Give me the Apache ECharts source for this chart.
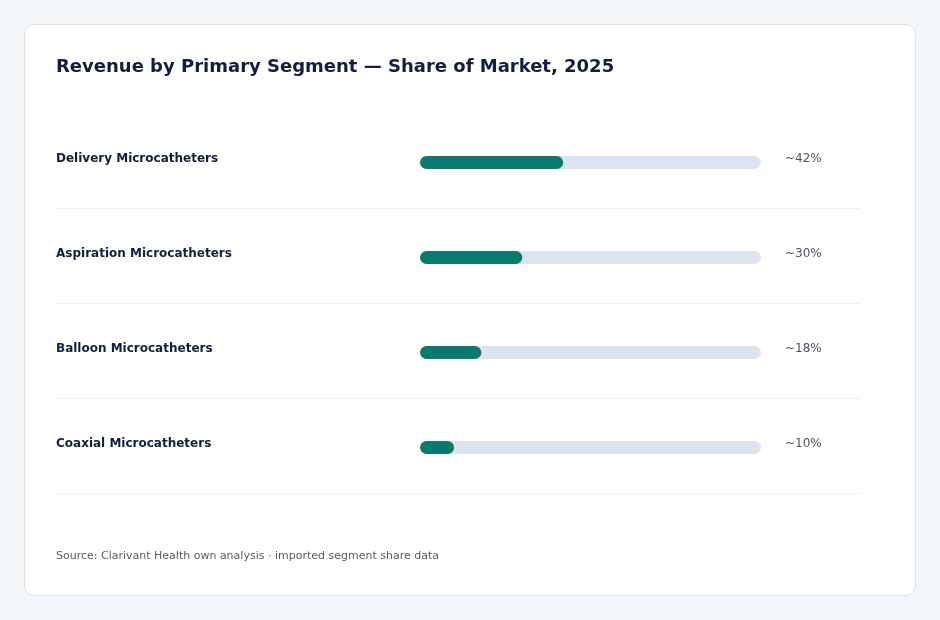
<!DOCTYPE html>
<html>
<head>
<meta charset="utf-8">
<script src="https://cdn.jsdelivr.net/npm/echarts@6/dist/echarts.min.js"></script>
<style>
  html, body { margin: 0; padding: 0; background: #f4f7fa; }
  #card {
    position: absolute; left: 24px; top: 24px; width: 892px; height: 572px;
    box-sizing: border-box; background: #fff; border: 1px solid #dfe4ea; border-radius: 10px;
  }
  #main { position: absolute; left: 0; top: 0; width: 940px; height: 620px; }
</style>
</head>
<body>
<div id="card"></div>
<div id="main"></div>
<script>
var segments = ['Delivery Microcatheters', 'Aspiration Microcatheters', 'Balloon Microcatheters', 'Coaxial Microcatheters'];
var shares = [42, 30, 18, 10];
var valueLabels = ['~42%', '~30%', '~18%', '~10%'];

var myChart = echarts.init(document.getElementById('main'));
var font = 'DejaVu Sans, sans-serif';

myChart.setOption({
    animation: false,
    title: [{
        text: 'Revenue by Primary Segment \u2014 Share of Market, 2025',
        left: 56, top: 58, padding: 0,
        textStyle: { fontFamily: font, fontSize: 18, fontWeight: 'bold', color: '#0f1f3c' }
    }, {
        text: 'Source: Clarivant Health own analysis \u00b7 imported segment share data',
        left: 56, top: 551, padding: 0,
        textStyle: { fontFamily: font, fontSize: 11, fontWeight: 'normal', color: '#555d69' }
    }],
    grid: [
        { left: 420, right: 179, top: 115, height: 380 },
        // row separators
        { left: 56, right: 80, top: 208, height: 285 },
        // labels sit a few px above the bar centre
        { left: 420, right: 179, top: 111, height: 380 }
    ],
    xAxis: [
        { gridIndex: 0, type: 'value', min: 0, max: 100, show: false },
        { gridIndex: 1, type: 'value', min: 0, max: 1, show: false },
        { gridIndex: 2, type: 'value', min: 0, max: 1, show: false }
    ],
    yAxis: [{
        gridIndex: 0, type: 'category', data: segments, inverse: true, show: false
    }, {
        gridIndex: 1, type: 'value', min: 1, max: segments.length, interval: 1, inverse: true,
        axisLine: { show: false }, axisTick: { show: false }, axisLabel: { show: false },
        splitLine: { show: true, lineStyle: { color: '#eef1f5', width: 1 } }
    }, {
        gridIndex: 2, type: 'category', data: segments, inverse: true,
        axisLine: { show: false }, axisTick: { show: false },
        axisLabel: {
            align: 'left', margin: 364,
            fontFamily: font, fontSize: 12, fontWeight: 'bold', color: '#0f1f3c'
        }
    }, {
        gridIndex: 2, type: 'category', data: valueLabels, inverse: true, position: 'right',
        axisLine: { show: false }, axisTick: { show: false },
        axisLabel: {
            align: 'left', margin: 24,
            fontFamily: font, fontSize: 12, color: '#4b5361'
        }
    }],
    series: [{
        type: 'bar',
        xAxisIndex: 0, yAxisIndex: 0,
        data: shares,
        barWidth: 13,
        showBackground: true,
        backgroundStyle: { color: '#dce5ef', borderRadius: 7 },
        itemStyle: { color: '#0b7a6e', borderRadius: 7 }
    }]
});
</script>
</body>
</html>
